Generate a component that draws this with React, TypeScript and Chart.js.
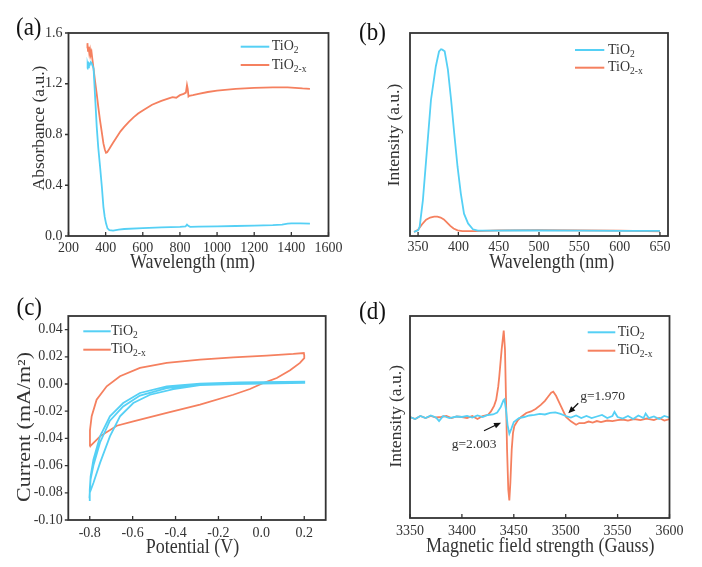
import React, { useEffect, useRef } from 'react';
import { Chart, registerables } from 'chart.js';
Chart.register(...registerables);

const FONT = "'Liberation Serif', 'Times New Roman', serif";
const CYAN = '#55D0F5';
const ORANGE = '#F5805F';
const INK = '#333333';

// ---------- (a) UV-vis absorbance ----------
const A_X_TICKS = [200, 400, 600, 800, 1000, 1200, 1400, 1600];
const A_Y_TICKS = [0, 0.4, 0.8, 1.2, 1.6];
const A_TIO2: [number, number][] = [
  [300, 1.32], [303, 1.35], [306, 1.33], [310, 1.36], [315, 1.35], [320, 1.37], [325, 1.36], [330, 1.34],
  [335, 1.32], [345, 1.05], [352, 0.86], [360, 0.70], [370, 0.546], [380, 0.38], [388, 0.23], [395, 0.15],
  [402, 0.10], [410, 0.06], [420, 0.046], [440, 0.043], [470, 0.05], [500, 0.055], [600, 0.062], [700, 0.068],
  [800, 0.072], [830, 0.075], [838, 0.09], [845, 0.08], [855, 0.072], [900, 0.074], [1000, 0.076], [1100, 0.079],
  [1200, 0.082], [1300, 0.086], [1350, 0.09], [1380, 0.097], [1400, 0.10], [1450, 0.10], [1500, 0.098],
];
const A_TIO2X: [number, number][] = [
  [300, 1.48], [302, 1.52], [305, 1.46], [308, 1.49], [312, 1.44], [316, 1.47], [320, 1.43], [324, 1.45],
  [328, 1.40], [334, 1.33], [343, 1.22], [352, 1.12], [361, 1.01], [370, 0.91], [379, 0.82], [388, 0.73],
  [396, 0.68], [402, 0.656], [408, 0.66], [415, 0.675], [425, 0.70], [440, 0.735], [460, 0.78], [480, 0.825],
  [500, 0.86], [525, 0.90], [550, 0.935], [575, 0.965], [600, 0.99], [650, 1.035], [700, 1.065], [740, 1.085],
  [760, 1.095], [780, 1.09], [800, 1.11], [820, 1.12], [832, 1.13], [838, 1.19], [842, 1.16], [846, 1.10],
  [850, 1.105], [870, 1.11], [900, 1.12], [950, 1.135], [1000, 1.145], [1100, 1.16], [1200, 1.168], [1300, 1.172],
  [1380, 1.172], [1420, 1.168], [1460, 1.163], [1500, 1.16],
];

// ---------- (b) PL intensity ----------
const B_X_TICKS = [350, 400, 450, 500, 550, 600, 650];
const B_TIO2: [number, number][] = [
  [345, 0.02], [350, 0.028], [352, 0.046], [356, 0.177], [360, 0.374], [366, 0.67], [372, 0.835], [376, 0.909],
  [378.5, 0.92], [380, 0.918], [383, 0.91], [387, 0.82], [391, 0.67], [395, 0.50], [399, 0.34], [403, 0.21],
  [407, 0.11], [412, 0.062], [418, 0.033], [424, 0.026], [440, 0.026], [470, 0.027], [500, 0.027], [550, 0.026],
  [600, 0.025], [650, 0.025],
];
const B_TIO2X: [number, number][] = [
  [345, 0.02], [350, 0.03], [355, 0.058], [360, 0.08], [365, 0.091], [370, 0.095], [374, 0.095], [378, 0.091],
  [382, 0.082], [386, 0.066], [390, 0.05], [394, 0.037], [399, 0.028], [405, 0.024], [420, 0.024], [450, 0.028],
  [500, 0.029], [550, 0.028], [600, 0.026], [650, 0.023],
];

// ---------- (c) cyclic voltammetry ----------
const C_X_TICKS = [-0.8, -0.6, -0.4, -0.2, 0, 0.2];
const C_Y_TICKS = [-0.1, -0.08, -0.06, -0.04, -0.02, 0, 0.02, 0.04];
const C_TIO2: [number, number][] = [
  [-0.8, -0.086], [-0.8, -0.078], [-0.796, -0.068], [-0.783, -0.0557], [-0.752, -0.0385], [-0.706, -0.0238],
  [-0.644, -0.014], [-0.566, -0.0066], [-0.441, -0.0017], [-0.286, 0.0002], [-0.1, 0.0012], [0.2, 0.0018],
  [0.2, 0.0008], [-0.131, 0.0], [-0.286, -0.0008], [-0.41, -0.0037], [-0.519, -0.0079], [-0.597, -0.014],
  [-0.659, -0.0238], [-0.706, -0.0385], [-0.752, -0.058], [-0.783, -0.0728], [-0.8, -0.08],
  [-0.796, -0.07], [-0.783, -0.06], [-0.752, -0.043], [-0.706, -0.027], [-0.644, -0.0165], [-0.566, -0.0085],
  [-0.441, -0.003], [-0.286, -0.0003], [0.2, 0.0012],
];
const C_TIO2X: [number, number][] = [
  [-0.8, -0.046], [-0.799, -0.034], [-0.791, -0.0237], [-0.768, -0.0115], [-0.721, -0.0017], [-0.659, 0.0057],
  [-0.566, 0.0118], [-0.441, 0.0155], [-0.286, 0.0179], [-0.131, 0.0196], [0.025, 0.0208], [0.149, 0.0221],
  [0.198, 0.0228], [0.2, 0.021], [0.2, 0.019], [0.18, 0.0155], [0.134, 0.0101], [0.072, 0.0044], [0.009, 0.0007],
  [-0.053, -0.0037], [-0.131, -0.0079], [-0.286, -0.0152], [-0.441, -0.0213], [-0.597, -0.0274], [-0.674, -0.0307],
  [-0.752, -0.0385], [-0.8, -0.046],
];

// ---------- (d) EPR ----------
const D_X_TICKS = [3350, 3400, 3450, 3500, 3550, 3600];
const D_TIO2: [number, number][] = [
  [3350, 0.0], [3355, -0.02], [3360, 0.01], [3365, -0.01], [3370, 0.015], [3375, -0.005], [3378, -0.04],
  [3382, 0.01], [3388, -0.01], [3395, 0.005], [3400, 0.0], [3405, 0.01], [3410, -0.005], [3415, 0.015],
  [3420, 0.0], [3425, 0.02], [3430, 0.025], [3434, 0.045], [3437.5, 0.1], [3440, 0.165], [3441, 0.175],
  [3442.5, 0.07], [3444, -0.08], [3445.7, -0.165], [3447.5, -0.12], [3450, -0.05], [3455, -0.01], [3460, 0.0],
  [3465, 0.015], [3470, 0.02], [3475, 0.03], [3480, 0.025], [3485, 0.04], [3490, 0.045], [3495, 0.03],
  [3500, 0.01], [3505, -0.005], [3510, 0.015], [3515, -0.01], [3520, 0.01], [3525, -0.01], [3530, 0.005],
  [3535, 0.02], [3540, -0.01], [3545, 0.01], [3547, 0.05], [3550, 0.0], [3555, -0.015], [3560, 0.01],
  [3565, -0.02], [3570, 0.015], [3575, -0.01], [3577, 0.035], [3580, -0.01], [3585, 0.005], [3590, -0.02],
  [3595, 0.01], [3600, -0.005],
];
const D_TIO2X: [number, number][] = [
  [3350, 0.0], [3355, -0.02], [3360, 0.01], [3365, -0.01], [3370, 0.01], [3375, -0.005], [3380, 0.0],
  [3385, 0.01], [3390, -0.01], [3395, 0.005], [3400, 0.0], [3405, -0.01], [3410, 0.01], [3415, -0.02],
  [3420, 0.01], [3425, 0.02], [3428, 0.055], [3431, 0.11], [3433, 0.17], [3435, 0.3], [3436, 0.4],
  [3438.3, 0.67], [3440.3, 0.855], [3441.5, 0.67], [3442.5, 0.17], [3443.5, -0.32], [3444.7, -0.72],
  [3445.7, -0.825], [3446.7, -0.65], [3448, -0.32], [3449.2, -0.16], [3450.5, -0.09], [3454, -0.03],
  [3457, 0.0], [3462, 0.04], [3466.6, 0.055], [3471, 0.08], [3476, 0.12], [3480, 0.16], [3483, 0.2],
  [3486, 0.24], [3488, 0.25], [3490.7, 0.21], [3493, 0.16], [3495.5, 0.105], [3498, 0.05], [3500.3, 0.0],
  [3505, -0.043], [3510, -0.076], [3513, -0.06], [3518, -0.06], [3522, -0.045], [3526, -0.055], [3530, -0.04],
  [3534, -0.05], [3540, -0.035], [3545, -0.04], [3550, -0.03], [3555, -0.025], [3560, -0.035], [3566, -0.02],
  [3572, -0.03], [3578, -0.015], [3585, -0.03], [3590, -0.01], [3595, -0.035], [3600, -0.02],
];
// arrows: [tailX, tailY, headX, headY]
const D_ARROWS: [number, number, number, number][] = [
  [3421.3, -0.136, 3437.7, -0.056],
  [3512.1, 0.136, 3502.5, 0.037],
];
const D_NOTES: [string, number, number][] = [
  ['g=2.003', 3411.7, -0.274],
  ['g=1.970', 3535.5, 0.205],
];

const SERIES = [
  { base: 'TiO', sub: '2', color: CYAN },
  { base: 'TiO', sub: '2-x', color: ORANGE },
];

type Area = { left: number; top: number; right: number; bottom: number };
type Deco = {
  label: { text: string; x: number; y: number };
  xTitle: { text: string; x: number; y: number; size: number };
  yTitle: { text: string; x: number; y: number; size: number; stretch?: number };
  yTicks: boolean;
  legend: { x1: number; x2: number; y: number; tx: number }[];
  extra?: (chart: any, ctx: CanvasRenderingContext2D) => void;
};

function decoPlugin(d: Deco) {
  return {
    id: 'deco',
    afterDraw(chart: any) {
      const ctx: CanvasRenderingContext2D = chart.ctx;
      const { left, right, top, bottom } = chart.chartArea;
      ctx.save();
      ctx.strokeStyle = INK;
      ctx.lineWidth = 1.8;
      ctx.strokeRect(left, top, right - left, bottom - top);
      ctx.lineWidth = 1.3;
      ctx.beginPath();
      const xs = chart.scales.x;
      xs.ticks.forEach((t: any) => {
        const p = xs.getPixelForValue(t.value);
        ctx.moveTo(p, bottom);
        ctx.lineTo(p, bottom - 4);
      });
      if (d.yTicks) {
        const ys = chart.scales.y;
        ys.ticks.forEach((t: any) => {
          const p = ys.getPixelForValue(t.value);
          ctx.moveTo(left - 3.5, p);
          ctx.lineTo(left, p);
        });
      }
      ctx.stroke();

      ctx.fillStyle = INK;
      ctx.textAlign = 'center';
      ctx.textBaseline = 'middle';
      ctx.save();
      ctx.translate(d.xTitle.x, d.xTitle.y);
      ctx.scale(1, 1.12);
      ctx.font = `${d.xTitle.size}px ${FONT}`;
      ctx.fillText(d.xTitle.text, 0, 0);
      ctx.restore();
      ctx.save();
      ctx.translate(d.yTitle.x, d.yTitle.y);
      ctx.rotate(-Math.PI / 2);
      ctx.scale(d.yTitle.stretch ?? 1, 1);
      ctx.font = `${d.yTitle.size}px ${FONT}`;
      ctx.fillText(d.yTitle.text, 0, 0);
      ctx.restore();

      ctx.fillStyle = '#111';
      ctx.textAlign = 'left';
      ctx.save();
      ctx.translate(d.label.x, d.label.y);
      ctx.scale(1, 1.1);
      ctx.font = `23px ${FONT}`;
      ctx.fillText(d.label.text, 0, 0);
      ctx.restore();

      d.legend.forEach((it, i) => {
        const s = SERIES[i];
        ctx.strokeStyle = s.color;
        ctx.lineWidth = 2;
        ctx.beginPath();
        ctx.moveTo(it.x1, it.y);
        ctx.lineTo(it.x2, it.y);
        ctx.stroke();
        ctx.fillStyle = INK;
        ctx.textAlign = 'left';
        ctx.textBaseline = 'middle';
        ctx.font = `14px ${FONT}`;
        ctx.fillText(s.base, it.tx, it.y);
        const w = ctx.measureText(s.base).width;
        ctx.font = `9.5px ${FONT}`;
        ctx.fillText(s.sub, it.tx + w, it.y + 4);
      });
      if (d.extra) d.extra(chart, ctx);
      ctx.restore();
    },
  };
}

function ds(points: [number, number][], color: string) {
  return {
    data: points.map(([x, y]) => ({ x, y })),
    borderColor: color,
    backgroundColor: color,
    borderWidth: 1.8,
    pointRadius: 0,
    showLine: true,
    tension: 0,
    fill: false,
  };
}

function makeConfig(opts: {
  W: number; H: number; area: Area;
  datasets: any[];
  x: { min: number; max: number; ticks: number[]; fmt: (v: number) => string; pad: number };
  y: { min: number; max: number; ticks?: number[]; fmt?: (v: number) => string; pad?: number };
  deco: Deco;
}) {
  const { W, H, area } = opts;
  const tickFont = { family: FONT, size: 14 };
  return {
    type: 'scatter',
    data: { datasets: opts.datasets },
    options: {
      animation: false,
      responsive: false,
      devicePixelRatio: 1,
      layout: { padding: { left: 0, top: area.top, right: W - area.right, bottom: 0 } },
      plugins: { legend: { display: false }, tooltip: { enabled: false } },
      scales: {
        x: {
          type: 'linear', min: opts.x.min, max: opts.x.max,
          afterBuildTicks: (s: any) => { s.ticks = opts.x.ticks.map((v) => ({ value: v })); },
          afterFit: (s: any) => { s.height = H - area.bottom; },
          grid: { display: false, drawTicks: false },
          border: { display: false },
          ticks: { padding: opts.x.pad, font: tickFont, color: INK, maxRotation: 0, autoSkip: false,
            callback: (v: any) => opts.x.fmt(Number(v)) },
        },
        y: {
          type: 'linear', min: opts.y.min, max: opts.y.max,
          afterBuildTicks: (s: any) => { if (opts.y.ticks) s.ticks = opts.y.ticks.map((v) => ({ value: v })); },
          afterFit: (s: any) => { s.width = area.left; },
          grid: { display: false, drawTicks: false },
          border: { display: false },
          ticks: { display: !!opts.y.ticks, padding: opts.y.pad ?? 6, font: tickFont, color: INK, autoSkip: false,
            callback: (v: any) => (opts.y.fmt ? opts.y.fmt(Number(v)) : '') },
        },
      },
    },
    plugins: [decoPlugin(opts.deco)],
  };
}

function Panel({ left, top, width, height, config }: any) {
  const ref = useRef<HTMLCanvasElement>(null);
  useEffect(() => {
    if (!ref.current) return;
    const chart = new Chart(ref.current, config());
    return () => chart.destroy();
  }, []);
  return (
    <div style={{ position: 'absolute', left, top, width, height }}>
      <canvas ref={ref} width={width} height={height} style={{ width, height, display: 'block' }} />
    </div>
  );
}

function drawArrow(ctx: CanvasRenderingContext2D, x1: number, y1: number, x2: number, y2: number) {
  const ang = Math.atan2(y2 - y1, x2 - x1);
  const L = 7, Wd = 3;
  ctx.strokeStyle = '#111';
  ctx.fillStyle = '#111';
  ctx.lineWidth = 1.2;
  ctx.beginPath();
  ctx.moveTo(x1, y1);
  ctx.lineTo(x2 - Math.cos(ang) * L * 0.8, y2 - Math.sin(ang) * L * 0.8);
  ctx.stroke();
  ctx.beginPath();
  ctx.moveTo(x2, y2);
  ctx.lineTo(x2 - Math.cos(ang) * L - Math.sin(ang) * Wd, y2 - Math.sin(ang) * L + Math.cos(ang) * Wd);
  ctx.lineTo(x2 - Math.cos(ang) * L + Math.sin(ang) * Wd, y2 - Math.sin(ang) * L - Math.cos(ang) * Wd);
  ctx.closePath();
  ctx.fill();
}

const cfgA = () => makeConfig({
  W: 351, H: 283, area: { left: 68.5, top: 33, right: 328.5, bottom: 236 },
  datasets: [ds(A_TIO2, CYAN), ds(A_TIO2X, ORANGE)],
  x: { min: 200, max: 1600, ticks: A_X_TICKS, fmt: (v) => String(v), pad: 4 },
  y: { min: 0, max: 1.6, ticks: A_Y_TICKS, fmt: (v) => v.toFixed(1), pad: 6 },
  deco: {
    label: { text: '(a)', x: 16, y: 28 },
    xTitle: { text: 'Wavelength (nm)', x: 192.5, y: 263, size: 18 },
    yTitle: { text: 'Absorbance (a.u.)', x: 39.5, y: 128, size: 17.5 },
    yTicks: true,
    legend: [{ x1: 240.7, x2: 269.3, y: 46.7, tx: 271.7 }, { x1: 240.7, x2: 269.3, y: 65, tx: 271.7 }],
  },
});

const cfgB = () => makeConfig({
  W: 351, H: 283, area: { left: 59, top: 33, right: 317, bottom: 236 },
  datasets: [ds(B_TIO2, CYAN), ds(B_TIO2X, ORANGE)],
  x: { min: 340, max: 660, ticks: B_X_TICKS, fmt: (v) => String(v), pad: 3 },
  y: { min: 0, max: 1 },
  deco: {
    label: { text: '(b)', x: 8, y: 33.3 },
    xTitle: { text: 'Wavelength (nm)', x: 200.8, y: 263, size: 18 },
    yTitle: { text: 'Intensity (a.u.)', x: 43.3, y: 135, size: 17.5 },
    yTicks: false,
    legend: [{ x1: 224, x2: 253.3, y: 50, tx: 257 }, { x1: 224, x2: 253.3, y: 67.7, tx: 257 }],
  },
});

const cfgC = () => makeConfig({
  W: 351, H: 284, area: { left: 68.3, top: 33, right: 325.7, bottom: 237 },
  datasets: [ds(C_TIO2, CYAN), ds(C_TIO2X, ORANGE)],
  x: { min: -0.9, max: 0.3, ticks: C_X_TICKS, fmt: (v) => v.toFixed(1), pad: 5 },
  y: { min: -0.1, max: 0.05, ticks: C_Y_TICKS, fmt: (v) => v.toFixed(2), pad: 5.5 },
  deco: {
    label: { text: '(c)', x: 16.5, y: 25 },
    xTitle: { text: 'Potential (V)', x: 192.5, y: 265, size: 18 },
    yTitle: { text: 'Current (mA/m²)', x: 25, y: 144, size: 18, stretch: 1.22 },
    yTicks: true,
    legend: [{ x1: 83.3, x2: 110.7, y: 48.3, tx: 111 }, { x1: 83.3, x2: 110.7, y: 66.7, tx: 111 }],
  },
});

const cfgD = () => makeConfig({
  W: 351, H: 284, area: { left: 59, top: 33, right: 318.5, bottom: 235 },
  datasets: [ds(D_TIO2, CYAN), ds(D_TIO2X, ORANGE)],
  x: { min: 3350, max: 3600, ticks: D_X_TICKS, fmt: (v) => String(v), pad: 5 },
  y: { min: -1, max: 1 },
  deco: {
    label: { text: '(d)', x: 8, y: 29.2 },
    xTitle: { text: 'Magnetic field strength (Gauss)', x: 189.2, y: 263.3, size: 18 },
    yTitle: { text: 'Intensity (a.u.)', x: 45.8, y: 133.3, size: 17.5 },
    yTicks: false,
    legend: [{ x1: 236.7, x2: 264.3, y: 49.3, tx: 266.7 }, { x1: 236.7, x2: 264.3, y: 67.7, tx: 266.7 }],
    extra: (chart, ctx) => {
      const xs = chart.scales.x, ys = chart.scales.y;
      D_ARROWS.forEach(([a, b, c, e]) =>
        drawArrow(ctx, xs.getPixelForValue(a), ys.getPixelForValue(b), xs.getPixelForValue(c), ys.getPixelForValue(e)));
      ctx.fillStyle = INK;
      ctx.font = `13.5px ${FONT}`;
      ctx.textAlign = 'center';
      ctx.textBaseline = 'middle';
      D_NOTES.forEach(([t, x, y]) => ctx.fillText(t, xs.getPixelForValue(x), ys.getPixelForValue(y)));
    },
  },
});

export default function App() {
  return (
    <div style={{ position: 'absolute', left: 0, top: 0, width: 702, height: 567, background: '#fff', overflow: 'hidden' }}>
      <Panel left={0} top={0} width={351} height={283} config={cfgA} />
      <Panel left={351} top={0} width={351} height={283} config={cfgB} />
      <Panel left={0} top={283} width={351} height={284} config={cfgC} />
      <Panel left={351} top={283} width={351} height={284} config={cfgD} />
    </div>
  );
}
